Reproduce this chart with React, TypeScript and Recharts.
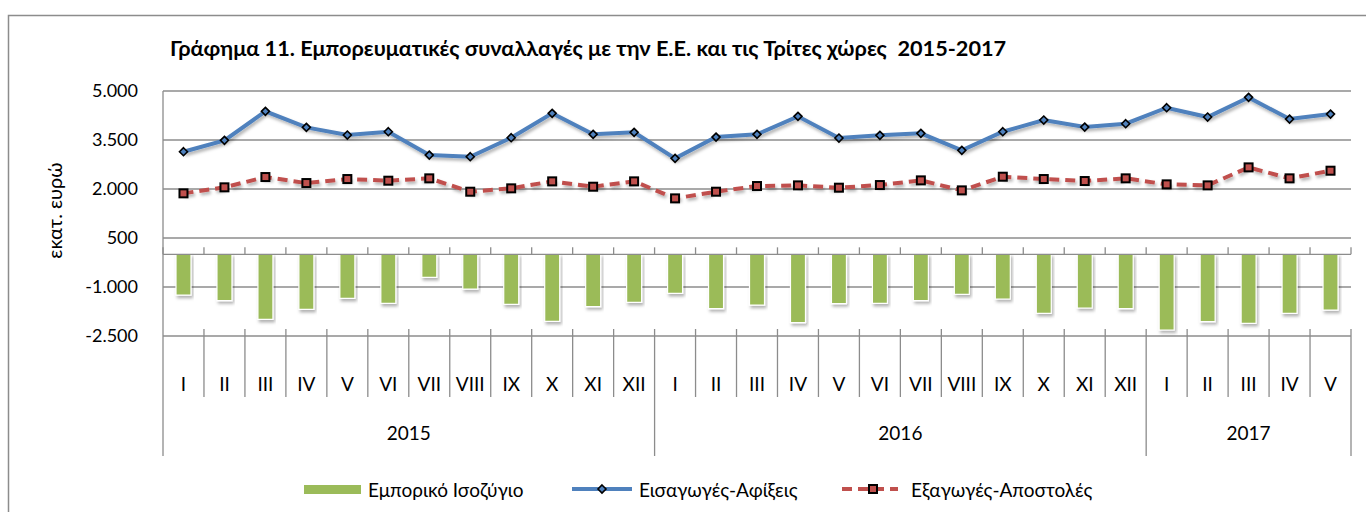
import React from 'react';
import { ComposedChart, Bar, Line, XAxis, YAxis, CartesianGrid, ReferenceLine } from 'recharts';

const monthLabels = ['I','II','III','IV','V','VI','VII','VIII','IX','X','XI','XII','I','II','III','IV','V','VI','VII','VIII','IX','X','XI','XII','I','II','III','IV','V'];
const yearLabels = ['2015', '2016', '2017'];
const monthsPerYear = [12, 12, 5];
const balanceValues = [-1246,-1419,-1990,-1684,-1347,-1500,-704,-1062,-1531,-2051,-1603,-1470,-1194,-1664,-1552,-2093,-1511,-1500,-1419,-1225,-1368,-1807,-1643,-1664,-2317,-2062,-2113,-1807,-1705];
const importValues = [3141,3489,4377,3887,3652,3753,3039,2988,3570,4316,3673,3734,2938,3590,3673,4224,3560,3642,3704,3183,3753,4111,3896,3998,4488,4203,4805,4141,4294];
const exportValues = [1867,2051,2366,2182,2305,2254,2326,1917,2020,2234,2070,2234,1713,1917,2091,2111,2040,2121,2264,1958,2376,2305,2244,2326,2142,2111,2662,2326,2560];
const yTicks = [-2500, -1000, 500, 2000, 3500, 5000];

const seriesNames = ['Εμπορικό Ισοζύγιο', 'Εισαγωγές-Αφίξεις', 'Εξαγωγές-Αποστολές'];
const titleText = 'Γράφημα 11. Εμπορευματικές συναλλαγές με την Ε.Ε. και τις Τρίτες χώρες  2015-2017';
const yAxisTitle = 'εκατ. ευρώ';

const GREEN = '#9BBB59';
const BLUE = '#4F81BD';
const RED = '#C0504D';
const GRID = '#8c8c8c';
const FONT = 'Lato, "Open Sans", sans-serif';

const W = 1366;
const H = 512;
const M = { top: 91, right: 15, bottom: 56, left: 0 };
const Y_AXIS_W = 163;
const X_AXIS_H = 120;
const PLOT_W = W - M.left - M.right - Y_AXIS_W;
const BAND = PLOT_W / monthLabels.length;

const data = monthLabels.map((m, i) => ({
  idx: i,
  month: m,
  balance: balanceValues[i],
  imports: importValues[i],
  exports: exportValues[i],
}));

const yearStarts: number[] = [];
const yearEnds: number[] = [];
{
  let s = 0;
  monthsPerYear.forEach((c) => {
    yearStarts.push(s);
    yearEnds.push(s + c - 1);
    s += c;
  });
}

const fmt = (v: number) => {
  const neg = v < 0;
  const s = Math.abs(v).toString().replace(/\B(?=(\d{3})+(?!\d))/g, '.');
  return (neg ? '-' : '') + s;
};

const CatTick = (props: any) => {
  const { x, y, index } = props;
  const half = BAND / 2;
  const isYearEnd = yearEnds.includes(index);
  const yi = yearStarts.indexOf(index);
  return (
    <g>
      <text x={x} y={y + 47} textAnchor="middle" dominantBaseline="central" fontSize={19} fill="#000" fontFamily={FONT}>
        {monthLabels[index]}
      </text>
      <line x1={x + half} x2={x + half} y1={y - 7} y2={y + (isYearEnd ? 120 : 61)} stroke={GRID} strokeWidth={1.3} />
      {index === 0 && <line x1={x - half} x2={x - half} y1={y} y2={y + 120} stroke={GRID} strokeWidth={1.3} />}
      {yi >= 0 && (
        <text x={x - half + (monthsPerYear[yi] * BAND) / 2} y={y + 96} textAnchor="middle" dominantBaseline="central" fontSize={19} fill="#000" fontFamily={FONT}>
          {yearLabels[yi]}
        </text>
      )}
    </g>
  );
};

const ZeroLine = (props: any) => {
  const { x1, x2, y1 } = props;
  const n = monthLabels.length;
  const step = (x2 - x1) / n;
  const ticks = [];
  for (let i = 0; i <= n; i++) {
    ticks.push(<line key={i} x1={x1 + i * step} x2={x1 + i * step} y1={y1 - 7} y2={y1} stroke={GRID} strokeWidth={1.3} />);
  }
  return (
    <g>
      <line x1={x1} x2={x2} y1={y1} y2={y1} stroke={GRID} strokeWidth={1.3} />
      {ticks}
    </g>
  );
};

const DiamondDot = (props: any) => {
  const { cx, cy, index } = props;
  if (cx == null || cy == null) return null;
  const r = 4;
  return (
    <path key={index} d={`M${cx},${cy - r}L${cx + r},${cy}L${cx},${cy + r}L${cx - r},${cy}Z`} fill={BLUE} stroke="#000" strokeWidth={1.6} />
  );
};

const SquareDot = (props: any) => {
  const { cx, cy, index } = props;
  if (cx == null || cy == null) return null;
  const r = 4;
  return <rect key={index} x={cx - r} y={cy - r} width={2 * r} height={2 * r} fill={RED} stroke="#000" strokeWidth={2} />;
};

const YTitle = (props: any) => {
  const { viewBox } = props;
  const cy = viewBox.y + viewBox.height / 2 - 3;
  const cx = 54;
  return (
    <text x={cx} y={cy} transform={`rotate(-90, ${cx}, ${cy})`} textAnchor="middle" dominantBaseline="central" fontSize={20} fill="#000" fontFamily={FONT}>
      {yAxisTitle}
    </text>
  );
};

export default function App() {
  return (
    <div style={{ position: 'absolute', left: 0, top: 0, width: W, height: H, background: '#fff', overflow: 'hidden' }}>
      <svg width={0} height={0} style={{ position: 'absolute' }}>
        <defs>
          <filter id="shadow" x="-20%" y="-20%" width="140%" height="160%">
            <feDropShadow dx="1.5" dy="2.5" stdDeviation="1.5" floodColor="#000" floodOpacity="0.3" />
          </filter>
        </defs>
      </svg>
      <ComposedChart width={W} height={H} data={data} margin={M}>
        <CartesianGrid vertical={false} stroke={GRID} strokeWidth={1.3} />
        <XAxis
          dataKey="idx"
          type="category"
          interval={0}
          height={X_AXIS_H}
          axisLine={false}
          tickLine={false}
          tickSize={0}
          tickMargin={0}
          tick={<CatTick />}
        />
        <YAxis
          type="number"
          domain={[-2500, 5000]}
          ticks={yTicks}
          width={Y_AXIS_W}
          axisLine={{ stroke: GRID, strokeWidth: 1.3 }}
          tickLine={false}
          tickSize={0}
          tickMargin={25}
          tickFormatter={fmt}
          tick={{ fontSize: 18, fill: '#000', fontFamily: FONT }}
          label={<YTitle />}
        />
        <ReferenceLine y={0} shape={<ZeroLine />} />
        <Bar dataKey="balance" name={seriesNames[0]} fill={GREEN} stroke="#fff" strokeWidth={1.2} barSize={15} isAnimationActive={false} style={{ filter: 'url(#shadow)' }} />
        <Line dataKey="imports" name={seriesNames[1]} stroke={BLUE} strokeWidth={4} dot={<DiamondDot />} activeDot={false} isAnimationActive={false} type="linear" style={{ filter: 'url(#shadow)' }} />
        <Line dataKey="exports" name={seriesNames[2]} stroke={RED} strokeWidth={4} strokeDasharray="10 6" dot={<SquareDot />} activeDot={false} isAnimationActive={false} type="linear" style={{ filter: 'url(#shadow)' }} />
      </ComposedChart>
      <svg width={W} height={H} style={{ position: 'absolute', left: 0, top: 0, pointerEvents: 'none' }}>
        <rect x={8.5} y={15.5} width={1500} height={600} fill="none" stroke={GRID} strokeWidth={1.5} />
        <text x={170} y={56} fontSize={21.7} fontWeight="bold" fill="#000" fontFamily={FONT} style={{ whiteSpace: 'pre' }}>
          {titleText}
        </text>
        <g fontFamily={FONT} fontSize={19} fill="#000">
          <rect x={304} y={485} width={57} height={9} fill={GREEN} />
          <text x={368} y={489.5} dominantBaseline="central">{seriesNames[0]}</text>
          <line x1={572} x2={632} y1={489} y2={489} stroke={BLUE} strokeWidth={4} />
          <path d="M602,485L606,489L602,493L598,489Z" fill={BLUE} stroke="#000" strokeWidth={1.6} />
          <text x={639} y={489.5} dominantBaseline="central">{seriesNames[1]}</text>
          <line x1={842} x2={898} y1={489} y2={489} stroke={RED} strokeWidth={4} strokeDasharray="10 6" />
          <rect x={869} y={485} width={8} height={8} fill={RED} stroke="#000" strokeWidth={2} />
          <text x={911} y={489.5} dominantBaseline="central">{seriesNames[2]}</text>
        </g>
      </svg>
    </div>
  );
}
